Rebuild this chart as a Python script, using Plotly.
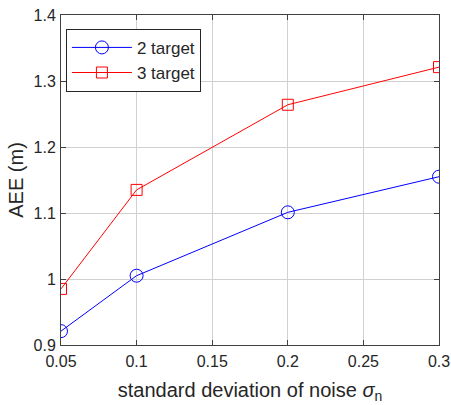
import plotly.graph_objects as go

noise_std = [0.05, 0.1, 0.2, 0.3]
aee_2_target = [0.921, 1.005, 1.101, 1.155]
aee_3_target = [0.985, 1.135, 1.264, 1.321]
x_ticks = [0.05, 0.1, 0.15, 0.2, 0.25, 0.3]
x_tick_labels = ["0.05", "0.1", "0.15", "0.2", "0.25", "0.3"]
y_ticks = [0.9, 1.0, 1.1, 1.2, 1.3, 1.4]
y_tick_labels = ["0.9", "1", "1.1", "1.2", "1.3", "1.4"]

FONT = "Liberation Sans, Arial"
TXT = "#262626"

fig = go.Figure()
fig.add_trace(go.Scatter(
    x=noise_std, y=aee_2_target, mode="lines+markers", name="2 target",
    line=dict(color="#0000ff", width=1),
    marker=dict(symbol="circle-open", size=13, color="#0000ff", line=dict(width=1)),
))
fig.add_trace(go.Scatter(
    x=noise_std, y=aee_3_target, mode="lines+markers", name="3 target",
    line=dict(color="#ff0000", width=1),
    marker=dict(symbol="square-open", size=11, color="#ff0000", line=dict(width=1)),
))

axis_common = dict(
    showline=True, linecolor="#404040", linewidth=1, mirror="allticks",
    ticks="inside", ticklen=5, tickcolor="#404040",
    showgrid=True, gridcolor="#d0d0d0", gridwidth=1, zeroline=False,
    automargin=False,
    tickfont=dict(family=FONT, size=16, color=TXT),
)
fig.update_xaxes(range=[0.05, 0.3], tickvals=x_ticks, ticktext=x_tick_labels,
                 ticklabelstandoff=2,
                 title=dict(text="standard deviation of noise <i>σ</i><sub>n</sub>",
                            font=dict(family=FONT, size=20, color=TXT),
                            standoff=13),
                 **axis_common)
fig.update_yaxes(range=[0.9, 1.4], tickvals=y_ticks, ticktext=y_tick_labels,
                 ticklabelstandoff=1,
                 title=dict(text="AEE (m)",
                            font=dict(family=FONT, size=20, color=TXT),
                            standoff=4),
                 **axis_common)

fig.update_layout(
    width=451, height=405,
    margin=dict(l=61, r=12, t=15, b=60),
    paper_bgcolor="white", plot_bgcolor="white",
    showlegend=True,
    legend=dict(x=0.013, y=0.958, xanchor="left", yanchor="top",
                bgcolor="white", bordercolor="#262626", borderwidth=1,
                font=dict(family=FONT, size=17, color=TXT),
                itemwidth=60, tracegroupgap=0),
)

fig.write_html("out.html")
